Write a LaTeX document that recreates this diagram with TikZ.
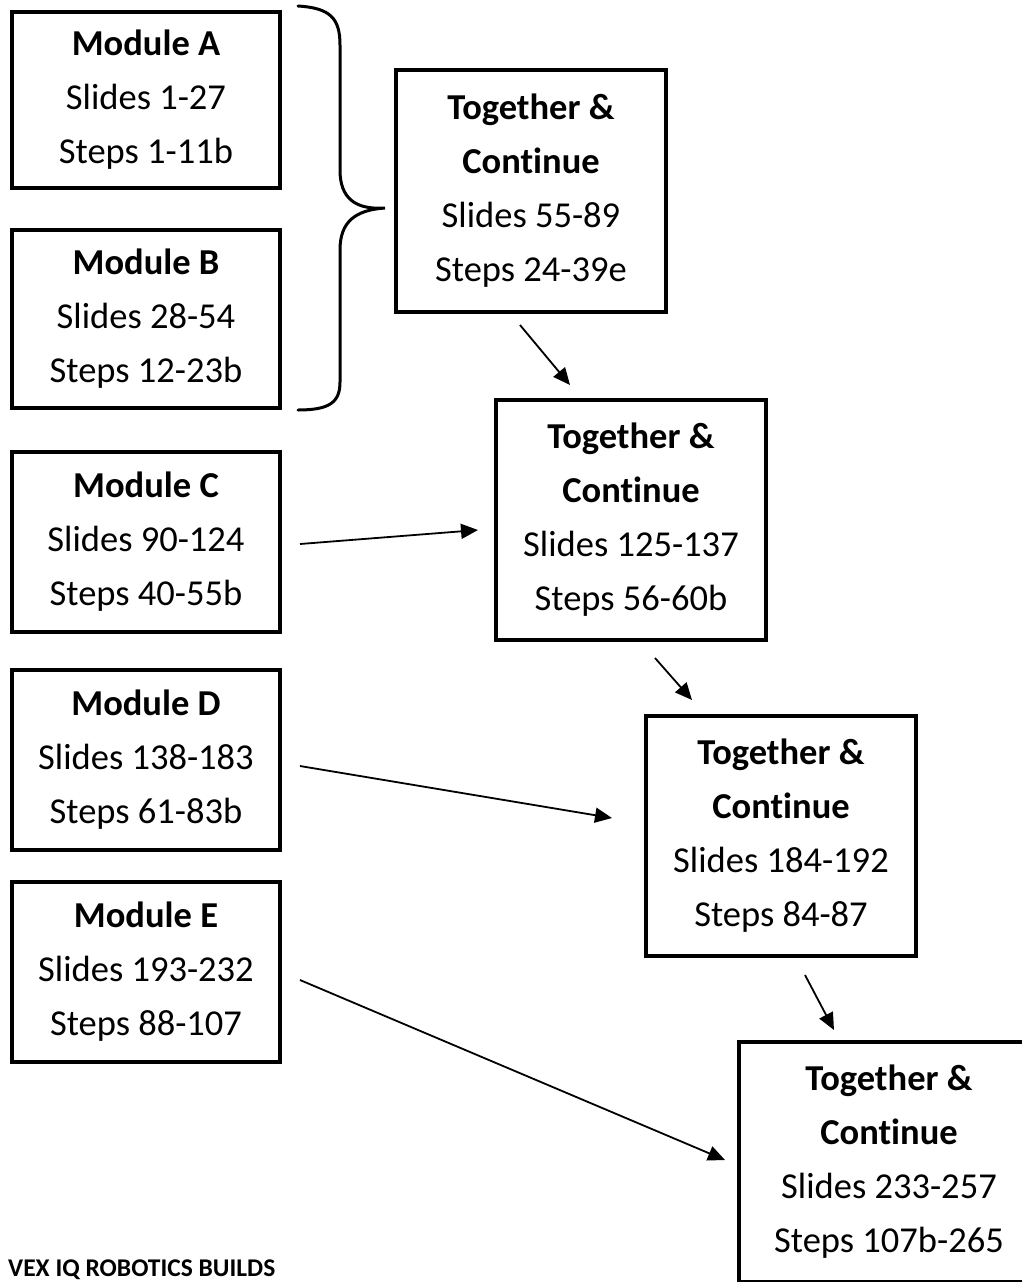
\documentclass[tikz,border=0pt]{standalone}
\usepackage{fontspec}
\setmainfont[RawFeature={-liga;-dlig;-calt}]{Carlito}
\usetikzlibrary{arrows.meta}
\begin{document}
\begin{tikzpicture}[x=1pt,y=-1pt,
  box/.style={draw=black, line width=4pt, minimum width=268pt, align=center,
    font=\fontsize{36.5}{54}\selectfont, inner sep=0pt},
  arr/.style={line width=1.8pt, -{Triangle[length=17pt,width=15pt]}},
  brace/.style={line width=3pt, line cap=round}]
\useasboundingbox (0,0) rectangle (1022,1282);
\clip (0,0) rectangle (1022,1282);
\node[box, minimum height=176pt] (A) at (146,100) {\textbf{Module A}\\Slides 1-27\\Steps 1-11b};
\node[box, minimum height=178pt] (B) at (146,319) {\textbf{Module B}\\Slides 28-54\\Steps 12-23b};
\node[box, minimum height=180pt] (C) at (146,542) {\textbf{Module C}\\Slides 90-124\\Steps 40-55b};
\node[box, minimum height=180pt] (D) at (146,760) {\textbf{Module D}\\Slides 138-183\\Steps 61-83b};
\node[box, minimum height=180pt] (E) at (146,972) {\textbf{Module E}\\Slides 193-232\\Steps 88-107};
\node[box, minimum width=270pt, minimum height=242pt] (T1) at (531,191) {\textbf{Together \&}\\\textbf{Continue}\\Slides 55-89\\Steps 24-39e};
\node[box, minimum width=270pt, minimum height=240pt] (T2) at (631,520) {\textbf{Together \&}\\\textbf{Continue}\\Slides 125-137\\Steps 56-60b};
\node[box, minimum width=270pt, minimum height=240pt] (T3) at (781,836) {\textbf{Together \&}\\\textbf{Continue}\\Slides 184-192\\Steps 84-87};
\node[box, minimum width=300pt, minimum height=240pt] (T4) at (889,1162) {\textbf{Together \&}\\\textbf{Continue}\\Slides 233-257\\Steps 107b-265};
\node[anchor=base west, inner sep=0pt, font=\bfseries\fontsize{25.5}{28}\selectfont] (title) at (8,1276) {VEX IQ ROBOTICS BUILDS};
% brace
\coordinate (br1) at ([shift={(16,-94)}]A.east);
\coordinate (brtip) at ([shift={(103,108)}]A.east);
\coordinate (br2) at ([shift={(16,91)}]B.east);
\draw[brace] (br1) .. controls (330,8) and (340,18) .. (340,45)
  -- (340,170) .. controls (340,198) and (355,210) .. (brtip)
  .. controls (355,210) and (340,222) .. (340,250)
  -- (340,382) .. controls (340,402) and (330,410) .. (br2);
% arrows
\coordinate (a1s) at ([shift={(-11,11)}]T1.south);
\coordinate (a1e) at ([shift={(-61,-13)}]T2.north);
\draw[arr] (a1s) -- (a1e);
\coordinate (cs) at ([shift={(18,2)}]C.east);
\coordinate (ce) at ([shift={(-16,10)}]T2.west);
\draw[arr] (cs) -- (ce);
\coordinate (a2s) at ([shift={(24,16)}]T2.south);
\coordinate (a2e) at ([shift={(-89,-14)}]T3.north);
\draw[arr] (a2s) -- (a2e);
\coordinate (ds) at ([shift={(18,6)}]D.east);
\coordinate (de) at ([shift={(-32,-18)}]T3.west);
\draw[arr] (ds) -- (de);
\coordinate (a3s) at ([shift={(24,17)}]T3.south);
\coordinate (a3e) at ([shift={(-55,-10)}]T4.north);
\draw[arr] (a3s) -- (a3e);
\coordinate (es) at ([shift={(18,8)}]E.east);
\coordinate (ee) at ([shift={(-12,-2)}]T4.west);
\draw[arr] (es) -- (ee);
\end{tikzpicture}
\end{document}
